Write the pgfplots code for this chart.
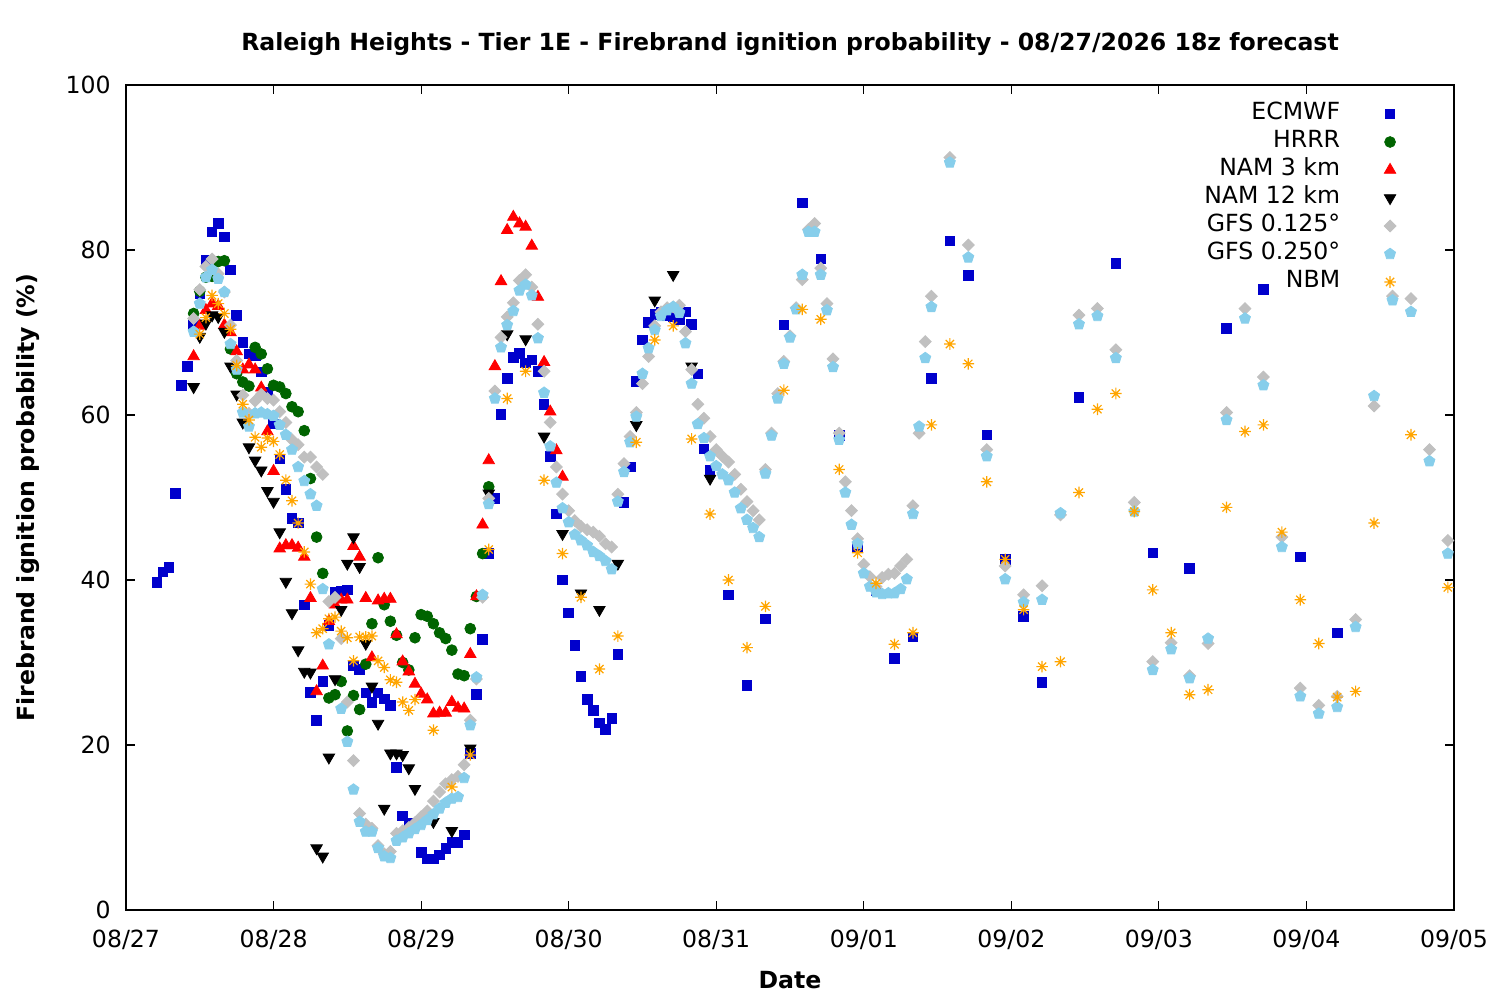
\documentclass[border=0pt]{standalone}
\usepackage{pgfplots}
\pgfplotsset{compat=1.18}
\usepackage{fontspec}
\setmainfont{DejaVu Sans}
\definecolor{ecblue}{HTML}{0000CC}
\definecolor{hrrrgreen}{HTML}{006400}
\definecolor{namred}{HTML}{FF0000}
\definecolor{gfsgray}{HTML}{C0C0C0}
\definecolor{gfsblue}{HTML}{87CEEB}
\definecolor{nbmorange}{HTML}{FFA500}
\newcommand{\tf}{\fontsize{11.8bp}{14bp}\selectfont}
\pgfdeclareplotmark{star8}{%
 \pgfpathmoveto{\pgfqpoint{-\pgfplotmarksize}{0pt}}\pgfpathlineto{\pgfqpoint{\pgfplotmarksize}{0pt}}%
 \pgfpathmoveto{\pgfqpoint{0pt}{-\pgfplotmarksize}}\pgfpathlineto{\pgfqpoint{0pt}{\pgfplotmarksize}}%
 \pgfpathmoveto{\pgfqpoint{-0.7071\pgfplotmarksize}{-0.7071\pgfplotmarksize}}\pgfpathlineto{\pgfqpoint{0.7071\pgfplotmarksize}{0.7071\pgfplotmarksize}}%
 \pgfpathmoveto{\pgfqpoint{-0.7071\pgfplotmarksize}{0.7071\pgfplotmarksize}}\pgfpathlineto{\pgfqpoint{0.7071\pgfplotmarksize}{-0.7071\pgfplotmarksize}}%
 \pgfusepathqstroke}
\begin{document}
\begin{tikzpicture}
\path[use as bounding box] (-63bp,-45bp) rectangle (687bp,455bp);
\begin{axis}[
  at={(0,0)}, anchor=south west,
  scale only axis, width=664bp, height=412.5bp,
  xmin=0, xmax=216, ymin=0, ymax=100,
  xtick={0,24,...,216},
  xticklabels={08/27,08/28,08/29,08/30,08/31,09/01,09/02,09/03,09/04,09/05},
  ytick={0,20,...,100},
  tick align=inside, tick pos=both, major tick length=4.5bp,
  axis line style={line width=0.6bp},
  tick style={line width=0.6bp, black},
  tick label style={font=\tf},
  /pgf/number format/assume math mode=true,
  xticklabel style={anchor=base, yshift=-18.5bp},
  yticklabel style={anchor=east, xshift=-4.2bp},
  title={Raleigh Heights - Tier 1E - Firebrand ignition probability - 08/27/2026 18z forecast},
  every axis title/.style={font=\bfseries\tf, at={(axis description cs:0.5,1)}, anchor=center, yshift=20.5bp},
  xlabel={Date},
  every axis x label/.style={font=\bfseries\tf, at={(axis description cs:0.5,0)}, anchor=center, yshift=-35bp},
  ylabel={Firebrand ignition probability (\%)},
  every axis y label/.style={font=\bfseries\tf, at={([xshift=-49bp]axis description cs:0,0.5)}, anchor=center, rotate=90},
  legend style={draw=none, fill=none, at={(axis description cs:1,1)}, anchor=north east,
    xshift=-29bp, yshift=-8.5bp, inner sep=0pt, outer sep=0pt, row sep=2bp, column sep=22bp,
    font=\tf, nodes={inner sep=0pt, text height=9bp, text depth=3bp}},
  legend cell align=right, legend plot pos=right,
  legend image code/.code={\draw[mark repeat=2,mark phase=2,#1] plot coordinates {(0bp,0bp)(10bp,0bp)(20bp,0bp)};},
]
% ECMWF
\addplot[only marks, mark=square*, mark size=2.4bp, color=ecblue] coordinates {
(5,39.7)(6,41.0)(7,41.5)(8,50.5)(9,63.6)(10,65.9)(11,71.0)(12,74.7)(13,78.8)(14,82.2)
(15,83.2)(16,81.6)(17,77.6)(18,72.1)(19,68.8)(20,67.4)(21,67.2)(22,65.2)(23,62.8)(24,58.9)
(25,54.7)(26,51.0)(27,47.5)(28,46.9)(29,37.0)(30,26.4)(31,23.0)(32,27.7)(33,34.5)(34,38.5)
(35,38.7)(36,38.8)(37,29.6)(38,29.2)(39,26.3)(40,25.2)(41,26.3)(42,25.6)(43,24.8)(44,17.3)
(45,11.4)(46,10.5)(47,10.3)(48,7.0)(49,6.2)(50,6.2)(51,6.7)(52,7.5)(53,8.2)(54,8.2)
(55,9.1)(56,19.0)(57,26.1)(58,32.8)(59,43.2)(60,49.9)(61,60.1)(62,64.4)(63,67.0)(64,67.5)
(65,66.3)(66,66.7)(67,65.3)(68,61.3)(69,55.0)(70,48.0)(71,40.0)(72,36.0)(73,32.1)(74,28.3)
(75,25.5)(76,24.2)(77,22.7)(78,21.9)(79,23.2)(80,31.0)(81,49.4)(82,53.7)(83,64.1)(84,69.1)
(85,71.2)(86,72.2)(87,72.4)(88,72.0)(89,71.9)(90,71.6)(91,72.5)(92,71.0)(93,65.0)(94,55.9)
(95,53.3)(98,38.2)(101,27.2)(104,35.3)(107,70.9)(110,85.7)(113,78.9)(116,57.5)(119,44.0)
(122,38.7)(125,30.5)(128,33.1)(131,64.4)(134,81.1)(137,76.9)(140,57.6)(143,42.5)(146,35.6)
(149,27.6)(155,62.1)(161,78.4)(167,43.3)(173,41.4)(179,70.5)(185,75.2)(191,42.8)(197,33.6)
};
\addlegendentry{ECMWF}
% HRRR
\addplot[only marks, mark=*, mark size=2.7bp, color=hrrrgreen] coordinates {
(11,72.3)(12,75.0)(13,76.7)(14,76.8)(15,78.6)(16,78.7)(17,68.0)(18,65.0)(19,64.0)(20,63.5)
(21,68.2)(22,67.4)(23,65.6)(24,63.6)(25,63.4)(26,62.6)(27,61.0)(28,60.4)(29,58.1)(30,52.3)
(31,45.2)(32,40.8)(33,25.7)(34,26.1)(35,27.7)(36,21.7)(37,26.0)(38,24.3)(39,29.8)(40,34.7)
(41,42.7)(42,37.0)(43,35.0)(44,33.3)(45,30.0)(46,29.1)(47,33.0)(48,35.8)(49,35.6)(50,34.7)
(51,33.6)(52,32.9)(53,31.5)(54,28.6)(55,28.4)(56,34.1)(57,38.0)(58,43.2)(59,51.3)
};
\addlegendentry{HRRR}
% NAM 3 km
\addplot[only marks, mark=triangle*, mark size=3.3bp, color=namred] coordinates {
(11,67.1)(12,70.8)(13,72.7)(14,73.5)(15,73.2)(16,70.9)(17,70.0)(18,67.7)(19,65.5)(20,66.1)
(21,65.5)(22,63.3)(23,58.0)(24,53.2)(25,43.8)(26,44.2)(27,44.2)(28,43.9)(29,42.8)(30,37.8)
(31,26.5)(32,29.6)(33,35.0)(34,37.0)(35,37.6)(36,37.6)(37,44.1)(38,42.8)(39,37.8)(40,30.6)
(41,37.5)(42,37.7)(43,37.7)(44,33.4)(45,30.1)(46,28.9)(47,27.4)(48,26.2)(49,25.5)(50,23.8)
(51,23.9)(52,23.9)(53,25.2)(54,24.5)(55,24.4)(56,31.0)(57,38.0)(58,46.7)(59,54.5)(60,65.9)
(61,76.2)(62,82.4)(63,84.0)(64,83.2)(65,82.8)(66,80.5)(67,74.3)(68,66.4)(69,60.4)(70,55.7)
(71,52.5)
};
\addlegendentry{NAM 3 km}
% NAM 12 km
\addplot[only marks, mark=triangle*, mark size=3.3bp, color=black, mark options={rotate=180}] coordinates {
(11,63.4)(12,69.5)(13,71.1)(14,72.1)(15,71.9)(16,70.1)(17,65.9)(18,62.5)(19,59.1)(20,56.1)
(21,54.5)(22,53.3)(23,50.8)(24,49.5)(25,45.8)(26,39.8)(27,36.0)(28,31.5)(29,28.9)(30,28.8)
(31,7.5)(32,6.5)(33,18.5)(34,28.0)(35,36.4)(36,42.0)(37,45.2)(38,41.6)(39,32.3)(40,27.1)
(41,22.6)(42,12.3)(43,19.0)(44,19.0)(45,18.8)(46,17.2)(47,14.7)(50,10.7)(53,9.6)(56,19.6)
(59,50.5)(62,69.8)(65,69.2)(68,57.4)(71,45.6)(74,38.4)(77,36.4)(80,42.0)(83,58.8)(86,73.9)
(89,77.0)(92,65.9)(95,52.3)
};
\addlegendentry{NAM 12 km}
% GFS 0.125
\addplot[only marks, mark=square*, mark size=2.1bp, color=gfsgray, mark options={rotate=45}] coordinates {
(11,71.7)(12,75.2)(13,78.0)(14,78.9)(15,77.1)(16,74.9)(17,70.9)(18,66.6)(19,62.4)(20,60.2)
(21,61.7)(22,62.5)(23,62.0)(24,61.8)(25,60.4)(26,59.1)(27,57.0)(28,56.4)(29,54.9)(30,54.9)
(31,53.7)(32,52.8)(33,37.4)(34,37.9)(35,32.9)(36,25.2)(37,18.1)(38,11.7)(39,10.4)(40,9.9)
(41,7.8)(42,6.8)(43,7.1)(44,9.3)(45,9.6)(46,10.0)(47,10.6)(48,11.3)(49,12.0)(50,13.2)
(51,14.3)(52,15.3)(53,15.8)(54,16.2)(55,17.6)(56,23.0)(57,28.0)(58,37.9)(59,49.9)(60,62.9)
(61,69.4)(62,71.9)(63,73.6)(64,76.3)(65,77.0)(66,75.5)(67,71.0)(68,65.3)(69,59.1)(70,53.7)
(71,50.4)(72,48.4)(73,47.2)(74,46.5)(75,46.1)(76,45.8)(77,45.3)(78,44.4)(79,44.0)(80,50.4)
(81,54.1)(82,57.4)(83,60.3)(84,63.8)(85,67.1)(86,70.8)(87,72.5)(88,73.0)(89,73.1)(90,73.3)
(91,70.1)(92,65.5)(93,61.3)(94,59.6)(95,57.4)(96,55.8)(97,55.0)(98,54.3)(99,52.8)(100,51.0)
(101,49.5)(102,48.4)(103,47.3)(104,53.4)(105,57.8)(106,62.6)(107,66.5)(108,69.6)(109,73.0)(110,76.4)
(111,82.5)(112,83.2)(113,77.8)(114,73.5)(115,66.8)(116,57.8)(117,51.9)(118,48.4)(119,45.0)(120,41.9)
(121,40.4)(122,39.2)(123,40.3)(124,40.7)(125,40.8)(126,41.7)(127,42.5)(128,49.0)(129,57.8)(130,68.9)
(131,74.4)(134,91.2)(137,80.6)(140,55.8)(143,41.7)(146,38.2)(149,39.3)(152,47.9)(155,72.1)(158,72.9)
(161,67.9)(164,49.4)(167,30.1)(170,32.4)(173,28.4)(176,32.3)(179,60.3)(182,72.9)(185,64.6)(188,45.2)
(191,26.9)(194,24.8)(197,25.9)(200,35.2)(203,61.1)(206,74.4)(209,74.1)(212,55.8)(215,44.8)
};
\addlegendentry{GFS 0.125°}
% GFS 0.250
\addplot[only marks, mark=pentagon*, mark size=2.9bp, color=gfsblue] coordinates {
(11,70.1)(12,73.5)(13,76.7)(14,77.6)(15,76.5)(16,74.9)(17,68.6)(18,65.5)(19,60.3)(20,58.6)
(21,60.2)(22,60.3)(23,60.1)(24,59.9)(25,58.8)(26,57.6)(27,55.8)(28,53.7)(29,52.0)(30,50.4)
(31,49.0)(32,38.9)(33,32.2)(35,24.4)(36,20.4)(37,14.6)(38,10.7)(39,9.5)(40,9.5)
(41,7.5)(42,6.5)(43,6.3)(44,8.4)(45,8.8)(46,9.3)(47,9.8)(48,10.3)(49,10.9)(50,11.6)
(51,12.3)(52,13.0)(53,13.5)(54,13.7)(55,16.0)(56,22.4)(57,28.2)(58,38.2)(59,49.2)(60,62.0)
(61,68.2)(62,70.9)(63,72.6)(64,75.1)(65,75.8)(66,74.5)(67,69.3)(68,62.7)(69,56.2)(70,51.8)
(71,48.7)(72,47.0)(73,45.5)(74,44.8)(75,44.2)(76,43.4)(77,42.9)(78,42.3)(79,41.3)(80,49.5)
(81,53.1)(82,56.7)(83,59.8)(84,65.0)(85,68.1)(86,70.3)(87,72.0)(88,72.7)(89,73.1)(90,72.4)
(91,68.7)(92,63.8)(93,58.9)(94,57.2)(95,55.0)(96,53.8)(97,52.8)(98,52.1)(99,50.6)(100,48.7)
(101,47.3)(102,46.3)(103,45.2)(104,52.9)(105,57.5)(106,62.0)(107,66.2)(108,69.4)(109,72.8)(110,77.0)
(111,82.2)(112,82.2)(113,77.0)(114,72.7)(115,65.8)(116,57.0)(117,50.6)(118,46.7)(119,44.4)(120,40.8)
(121,39.2)(122,38.5)(123,38.3)(124,38.4)(125,38.4)(126,38.9)(127,40.1)(128,48.0)(129,58.6)(130,66.9)
(131,73.1)(134,90.6)(137,79.1)(140,55.0)(143,40.1)(146,37.3)(149,37.6)(152,48.1)(155,71.0)(158,72.0)
(161,66.9)(164,48.3)(167,29.1)(170,31.6)(173,28.1)(176,32.9)(179,59.4)(182,71.7)(185,63.6)(188,44.0)
(191,25.9)(194,23.8)(197,24.6)(200,34.3)(203,62.3)(206,73.9)(209,72.5)(212,54.4)(215,43.2)
};
\addlegendentry{GFS 0.250°}
% NBM
\addplot[only marks, mark=star8, mark size=2.9bp, color=nbmorange, line width=0.6bp] coordinates {
(12,69.8)(13,71.8)(14,74.5)(15,73.5)(16,72.3)(17,70.4)(18,66.0)(19,61.3)(20,59.4)(21,57.3)
(22,56.1)(23,57.2)(24,56.8)(25,55.2)(26,52.1)(27,49.6)(28,46.9)(29,43.4)(30,39.5)(31,33.6)
(32,34.1)(33,35.3)(34,35.5)(35,33.8)(36,33.0)(37,30.2)(38,33.1)(39,33.1)(40,33.2)(41,30.2)
(42,29.4)(43,27.9)(44,27.6)(45,25.2)(46,24.2)(47,25.5)(50,21.8)(53,14.9)(56,18.8)(59,43.7)
(62,62.0)(65,65.3)(68,52.1)(71,43.2)(74,37.9)(77,29.2)(80,33.2)(83,56.7)(86,69.1)(89,70.8)
(92,57.1)(95,48.0)(98,40.0)(101,31.8)(104,36.8)(107,63.0)(110,72.8)(113,71.6)(116,53.4)(119,43.3)
(122,39.6)(125,32.2)(128,33.6)(131,58.8)(134,68.6)(137,66.2)(140,51.9)(143,42.5)(146,36.4)(149,29.5)
(152,30.1)(155,50.6)(158,60.7)(161,62.6)(164,48.3)(167,38.8)(170,33.6)(173,26.1)(176,26.7)(179,48.8)
(182,58.0)(185,58.8)(188,45.8)(191,37.6)(194,32.3)(197,25.8)(200,26.5)(203,46.9)(209,57.6)
(215,39.1)
};
\addlegendentry{NBM}
\end{axis}
\end{tikzpicture}
\end{document}
